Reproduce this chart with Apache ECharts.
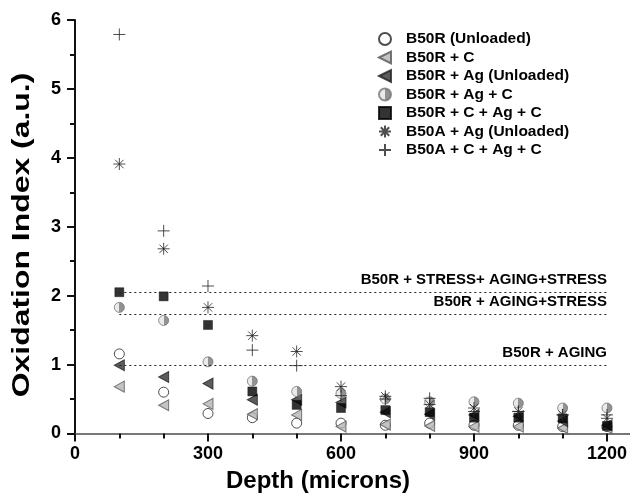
<!DOCTYPE html>
<html><head><meta charset="utf-8">
<script src="https://cdn.jsdelivr.net/npm/echarts@6/dist/echarts.min.js"></script>
<style>html,body{margin:0;padding:0;background:#fff}#c{width:630px;height:496px}</style>
</head><body><div id="c"></div>
<script>
// ---- data ----
var depths = [100, 200, 300, 400, 500, 600, 700, 800, 900, 1000, 1100, 1200];
var b50rUnloaded = [1.155, 0.60, 0.29, 0.23, 0.15, 0.15, 0.12, 0.15, 0.12, 0.12, 0.10, 0.10];
var b50rC        = [0.68, 0.41, 0.43, 0.28, 0.27, 0.10, 0.13, 0.11, 0.10, 0.10, 0.08, 0.08];
var b50rAg       = [0.99, 0.82, 0.725, 0.49, 0.49, 0.45, 0.31, 0.28, 0.27, 0.25, 0.18, 0.12];
var b50rAgC      = [1.83, 1.64, 1.04, 0.76, 0.61, 0.58, 0.50, 0.46, 0.46, 0.44, 0.37, 0.37];
var b50rCAgC     = [2.05, 1.99, 1.575, 0.61, 0.415, 0.37, 0.34, 0.31, 0.23, 0.23, 0.22, 0.11];
var b50aAg       = [3.91, 2.68, 1.83, 1.42, 1.19, 0.68, 0.54, 0.42, 0.37, 0.32, 0.27, 0.22];
var b50aCAgC     = [5.79, 2.94, 2.14, 1.21, 0.985, 0.55, 0.50, 0.51, 0.32, 0.32, 0.27, 0.27];
var seriesNames = ['B50R (Unloaded)', 'B50R + C', 'B50R + Ag (Unloaded)', 'B50R + Ag + C',
                   'B50R + C + Ag + C', 'B50A + Ag (Unloaded)', 'B50A + C + Ag + C'];
var refValues = [2.05, 1.735, 0.99];
var refLabels = ['B50R + STRESS+ AGING+STRESS', 'B50R + AGING+STRESS', 'B50R + AGING'];
var refStart = 100, refEnd = 1200;
var xTicks = [0, 300, 600, 900, 1200];
var yTicks = [0, 1, 2, 3, 4, 5, 6];

var FONT = 'Arial, "Liberation Sans", sans-serif';
function pairs(vals){ return depths.map(function(d,i){ return [d, vals[i]]; }); }

var halfGrad = new echarts.graphic.LinearGradient(0,0,1,0,[
  {offset:0,color:'#e4e4e4'},{offset:0.5,color:'#e4e4e4'},
  {offset:0.5,color:'#777'},{offset:1,color:'#777'}]);

var TRI_LEFT = 'path://M0,5L10,0L10,10Z';
var STAR = 'path://M10,0L10,20M0,10L20,10M3,3L17,17M17,3L3,17';
var PLUS = 'path://M10,0L10,20M0,10L20,10';

var series = [
  {name: seriesNames[0], data: pairs(b50rUnloaded), symbol:'circle', symbolSize:10,
   itemStyle:{color:'#fff', borderColor:'#222', borderWidth:1}},
  {name: seriesNames[1], data: pairs(b50rC), symbol:TRI_LEFT, symbolSize:[10,11],
   itemStyle:{color:'#b4b4b4', borderColor:'#555', borderWidth:1}},
  {name: seriesNames[2], data: pairs(b50rAg), symbol:TRI_LEFT, symbolSize:[10,11],
   itemStyle:{color:'#333', borderColor:'#222', borderWidth:1}},
  {name: seriesNames[3], data: pairs(b50rAgC), symbol:'circle', symbolSize:10,
   itemStyle:{color:halfGrad, borderColor:'#777', borderWidth:1}},
  {name: seriesNames[4], data: pairs(b50rCAgC), symbol:'rect', symbolSize:9,
   itemStyle:{color:'#000', borderColor:'#000', borderWidth:0.5}},
  {name: seriesNames[5], data: pairs(b50aAg), symbol:STAR, symbolSize:12,
   itemStyle:{color:'#222', borderColor:'#222', borderWidth:1}},
  {name: seriesNames[6], data: pairs(b50aCAgC), symbol:PLUS, symbolSize:12,
   itemStyle:{color:'#222', borderColor:'#222', borderWidth:1}}
].map(function(s){ s.type='scatter'; s.z = 3; return s; });

series[0].markLine = {
  silent:true, symbol:['none','none'], animation:false,
  lineStyle:{type:[2,3], color:'#222', width:1.2},
  label:{position:'insideEndTop', color:'#000', fontWeight:'bold', fontSize:15, fontFamily:FONT,
         distance:[0,5], formatter:'{b}'},
  data: refValues.map(function(v,i){
    return [{coord:[refStart, v], name: refLabels[i]}, {coord:[refEnd, v]}];
  })
};

var chart = echarts.init(document.getElementById('c'), null, {renderer:'canvas'});
chart.setOption({
  animation:false,
  backgroundColor:'#fff',
  grid:{left:75, right:0, top:20, bottom:62.5, containLabel:false},
  legend:{
    orient:'vertical', left:373, top:26, itemWidth:12, itemHeight:12, itemGap:2.5,
    data: seriesNames,
    textStyle:{color:'#000', fontWeight:'bold', fontSize:15.5, fontFamily:FONT, padding:[0,0,0,10]}
  },
  xAxis:[{
    type:'value', min:0, max:1250, interval:300,
    axisLine:{show:true, onZero:false, lineStyle:{color:'#111', width:2}},
    axisTick:{show:true, inside:false, length:8, customValues:xTicks, lineStyle:{color:'#111', width:2}},
    minorTick:{show:true, splitNumber:3, length:5, lineStyle:{color:'#111', width:2}},
    axisLabel:{color:'#000', fontWeight:'bold', fontSize:18, fontFamily:FONT, margin:12, customValues:xTicks,
      formatter:function(v){ return xTicks.indexOf(v) >= 0 ? String(v) : ''; }},
    splitLine:{show:false}
  },{
    type:'value', position:'top', min:0, max:1250,
    axisLine:{show:true, lineStyle:{color:'#999', width:1.5}},
    axisTick:{show:false}, axisLabel:{show:false}, splitLine:{show:false}
  }],
  yAxis:{
    type:'value', min:0, max:6, interval:1,
    axisLine:{show:true, onZero:false, lineStyle:{color:'#111', width:2}},
    axisTick:{show:true, inside:false, length:8, lineStyle:{color:'#111', width:2}},
    minorTick:{show:true, splitNumber:2, length:5, lineStyle:{color:'#111', width:2}},
    axisLabel:{color:'#000', fontWeight:'bold', fontSize:18, fontFamily:FONT, margin:14,
      formatter:function(v){ return yTicks.indexOf(v) >= 0 ? String(v) : ''; }},
    splitLine:{show:false}
  },
  graphic:[
    {type:'text', x:318, y:481, style:{text:'Depth (microns)', font:'bold 24px ' + FONT, fill:'#000', textAlign:'center', textVerticalAlign:'middle'}},
    {type:'text', x:22, y:235, rotation:Math.PI/2, scaleX:1.33, style:{text:'Oxidation Index (a.u.)', font:'bold 24px ' + FONT, fill:'#000', textAlign:'center', textVerticalAlign:'middle'}}
  ],
  series: series
});
</script></body></html>
